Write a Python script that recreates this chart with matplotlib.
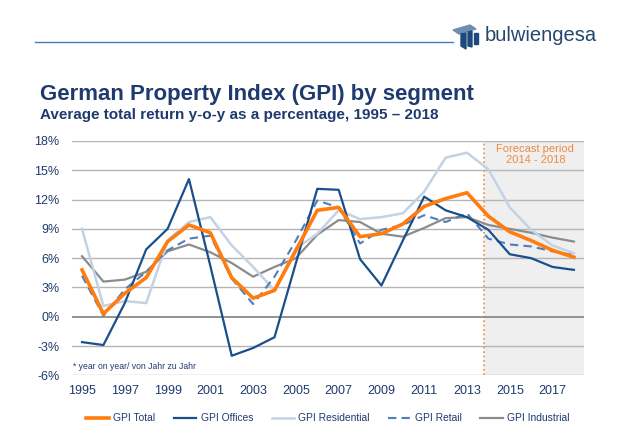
import matplotlib
matplotlib.use("Agg")
import matplotlib.pyplot as plt
from matplotlib.patches import Polygon

# Datos (retorno total anual en %)
anios = list(range(1995, 2019))
gpi_total = [4.8, 0.3, 2.4, 4.0, 7.7, 9.4, 8.6, 4.0, 1.9, 2.7, 6.8, 10.9,
             11.2, 8.2, 8.5, 9.5, 11.3, 12.1, 12.7, 10.3, 8.7, 7.8, 6.8, 6.1]
gpi_offices = [-2.6, -2.9, 1.4, 6.9, 9.0, 14.1, 5.2, -4.0, -3.2, -2.1, 5.5, 13.1,
               13.0, 5.9, 3.2, 7.8, 12.3, 10.9, 10.2, 8.9, 6.4, 6.0, 5.1, 4.8]
gpi_residential = [9.0, 1.1, 1.6, 1.4, 7.8, 9.7, 10.2, 7.3, 5.1, 2.7, 7.0, 8.5,
                   10.9, 10.0, 10.2, 10.6, 12.8, 16.3, 16.8, 15.1, 11.2, 8.9, 7.3, 6.5]
gpi_retail = [4.2, 0.1, 2.8, 4.6, 6.8, 8.0, 8.3, 3.9, 1.3, 4.1, 7.8, 11.9,
              11.2, 7.5, 8.9, 9.4, 10.4, 9.7, 10.6, 8.0, 7.4, 7.2, 6.7, 6.3]
gpi_industrial = [6.2, 3.6, 3.8, 4.6, 6.7, 7.4, 6.6, 5.5, 4.1, 5.1, 6.0, 8.4,
                  9.9, 9.7, 8.5, 8.2, 9.1, 10.1, 10.2, 9.4, 9.0, 8.6, 8.1, 7.7]
ticks_y = [-6, -3, 0, 3, 6, 9, 12, 15, 18]
ticks_x = list(range(1995, 2019, 2))
inicio_pronostico = 2013.8

azul_texto = "#1f3a6e"

plt.rcParams['font.family'] = ['Liberation Sans', 'DejaVu Sans']

fig = plt.figure(figsize=(6.32, 4.42), dpi=100)
ax = fig.add_axes([0.1139, 0.1509, 0.8101, 0.5301])

# Zona de pronóstico
ax.axvspan(inicio_pronostico, 2018.47, color="#efefef", zorder=0, lw=0)
ax.axvline(inicio_pronostico, color="#f08a3c", ls=":", lw=1.2, zorder=1)
ax.text(2016.2, 17.65, "Forecast period\n2014 - 2018", color="#f08a3c",
        ha="center", va="top", fontsize=8, linespacing=1.1)

# Cuadrícula
for v in ticks_y:
    if v == 0:
        ax.axhline(v, color="#8a8a8a", lw=1.3, zorder=1)
    else:
        ax.axhline(v, color="#b5b5b5", lw=1.0, zorder=1)

ax.plot(anios, gpi_industrial, color="#8c8c8c", lw=1.6, label="GPI Industrial", zorder=3)
ax.plot(anios, gpi_residential, color="#c3d2e4", lw=1.8, label="GPI Residential", zorder=3)
ax.plot(anios, gpi_retail, color="#4f7fba", lw=1.5, ls=(0, (4, 2.5)), label="GPI Retail", zorder=4)
ax.plot(anios, gpi_offices, color="#1b4f8c", lw=1.6, label="GPI Offices", zorder=5)
ax.plot(anios, gpi_total, color="#ff7d0f", lw=2.6, label="GPI Total", zorder=6)

ax.set_xlim(1994.53, 2018.47)
ax.set_ylim(-6, 18)
ax.set_yticks(ticks_y)
ax.set_yticklabels([f"{v}%" for v in ticks_y])
ax.set_xticks(ticks_x)
ax.set_xticklabels([str(a) for a in ticks_x])
ax.tick_params(length=0, labelsize=9, labelcolor=azul_texto)
ax.tick_params(axis="y", pad=9)
ax.tick_params(axis="x", pad=7)
for s in ax.spines.values():
    s.set_visible(False)

ax.text(1994.6, -5.4, "* year on year/ von Jahr zu Jahr", color=azul_texto, fontsize=6.2)

# Leyenda
handles, labels = ax.get_legend_handles_labels()
orden = ["GPI Total", "GPI Offices", "GPI Residential", "GPI Retail", "GPI Industrial"]
hs = [handles[labels.index(n)] for n in orden]
leg = fig.legend(hs, orden, loc="center", bbox_to_anchor=(0.519, 0.054), ncol=5,
                 frameon=False, fontsize=7.4, handlelength=2.2, columnspacing=1.8,
                 handletextpad=0.4)
for t in leg.get_texts():
    t.set_color(azul_texto)

# Títulos
fig.text(0.063, 0.774, "German Property Index (GPI) by segment", fontsize=16,
         fontweight="bold", color=azul_texto, va="baseline")
fig.text(0.063, 0.731, "Average total return y-o-y as a percentage, 1995 \u2013 2018",
         fontsize=11, fontweight="bold", color=azul_texto, va="baseline")

# Cabecera con logo
fig.add_artist(plt.Line2D([0.055, 0.717], [0.904, 0.904], color="#4a7ab8", lw=1.0))
fig.text(0.767, 0.92, "bulwiengesa", fontsize=14.5, color="#25466f", va="center")
W, H = 632.0, 442.0
icono = [
    ([(453, 30), (470, 25), (476, 29), (459, 34)], "#6d8db3"),
    ([(461, 34), (466, 33), (466, 49), (461, 46)], "#1d4a7a"),
    ([(468, 32), (472, 31), (472, 47), (468, 46)], "#1d4a7a"),
    ([(474, 33), (478, 33), (478, 44), (474, 44)], "#1d4a7a"),
]
for pts, col in icono:
    fig.add_artist(Polygon([(px / W, 1 - py / H) for px, py in pts], closed=True,
                           color=col, transform=fig.transFigure))

fig.savefig("out.png", dpi=100)
